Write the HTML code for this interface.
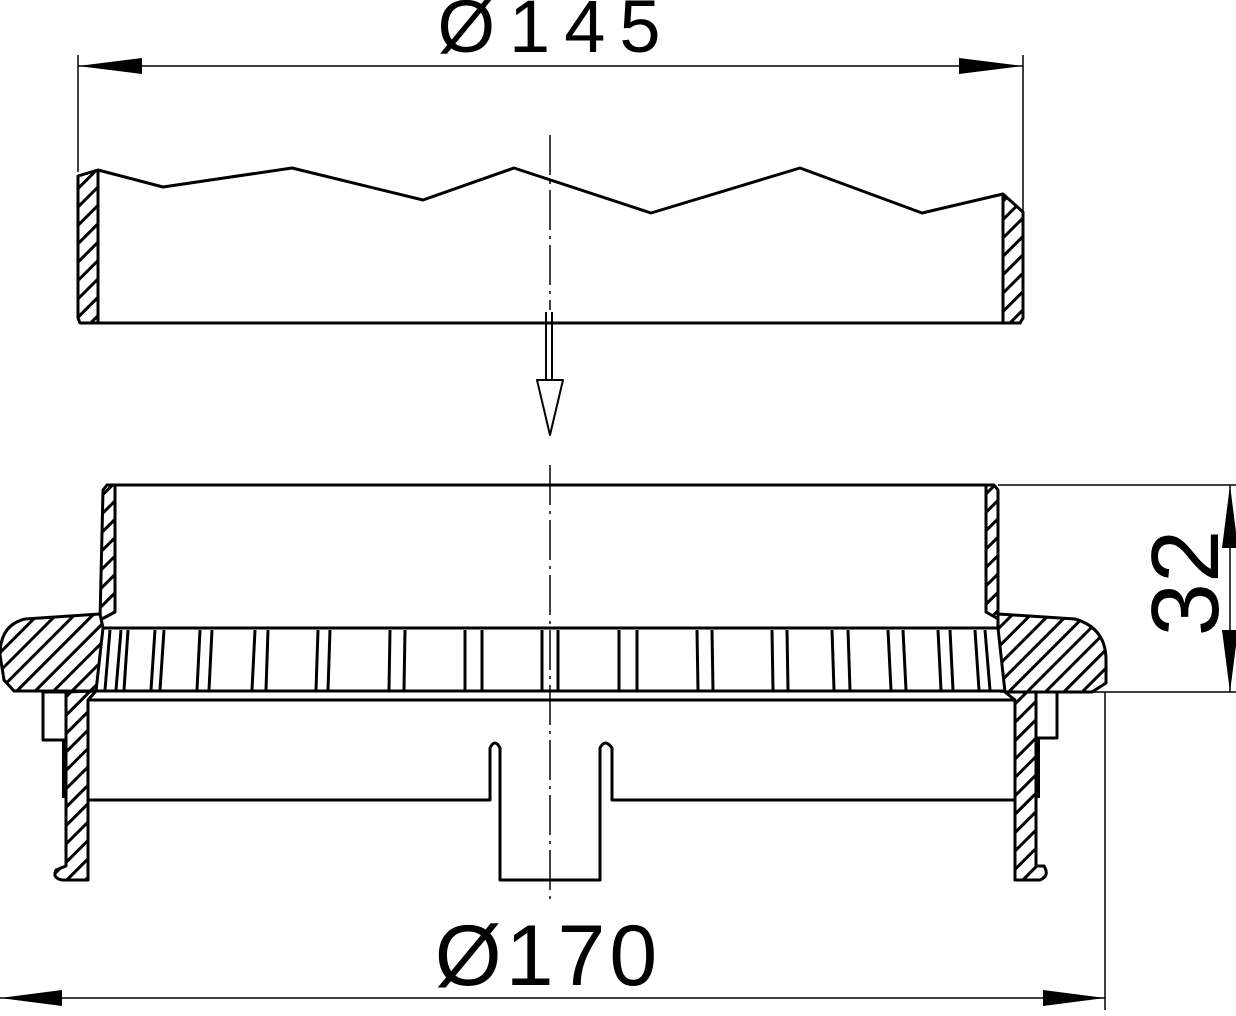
<!DOCTYPE html>
<html><head><style>html,body{margin:0;padding:0;background:#fff}svg{display:block}</style></head>
<body>
<svg width="1236" height="1016" viewBox="0 0 1236 1016" xmlns="http://www.w3.org/2000/svg">
<defs>
<pattern id="h" patternUnits="userSpaceOnUse" width="13" height="13" patternTransform="rotate(45)">
<rect width="13" height="13" fill="#fff"/><line x1="6.5" y1="0" x2="6.5" y2="13" stroke="#000" stroke-width="3"/>
</pattern>
</defs>
<g fill="none" stroke="#000" stroke-width="1.5">
<line x1="78" y1="66" x2="1023" y2="66"/>
<line x1="78" y1="55" x2="78" y2="172"/>
<line x1="1023" y1="55" x2="1023" y2="212"/>
<line x1="998" y1="485" x2="1236" y2="485"/>
<line x1="1000" y1="692" x2="1236" y2="692"/>
<line x1="1230" y1="485" x2="1230" y2="692"/>
<line x1="1105" y1="692" x2="1105" y2="1010"/>
<line x1="0" y1="998" x2="1105" y2="998"/>
<line x1="550" y1="135" x2="550" y2="310" stroke-dasharray="40,6,3,6"/>
<line x1="550" y1="465" x2="550" y2="900" stroke-dasharray="40,6,3,6"/>
</g>
<g fill="#000">
<polygon points="78,66 142,58 142,74"/>
<polygon points="1023,66 959,58 959,74"/>
<polygon points="0,998 62,990 62,1006"/>
<polygon points="1105,998 1043,990 1043,1006"/>
<polygon points="1230,485 1222,548 1238,548"/>
<polygon points="1230,692 1222,630 1238,630"/>
</g>
<g fill="none" stroke="#000" stroke-width="3" stroke-linejoin="round">
<polyline points="98,170 163,187 292,168 423,200 514,168 651,213 800,168 922,213 1003,194"/>
<line x1="80" y1="323" x2="1021" y2="323"/>
<polygon points="78,176 98,170 98,323 80,323 78,318" fill="url(#h)"/>
<polygon points="1003,194 1023,212 1023,318 1020,323 1003,323" fill="url(#h)"/>
<line x1="546" y1="312" x2="546" y2="380" stroke-width="2"/>
<line x1="552" y1="312" x2="552" y2="380" stroke-width="2"/>
<polygon points="537,380 563,380 550,435" stroke-width="2"/>
<line x1="115" y1="485" x2="986" y2="485"/>
<polygon points="107,485 115,485 115,612 100,620 103,490" fill="url(#h)"/>
<polygon points="986,485 994,485 998,490 998,614 1000,620 986,612" fill="url(#h)"/>
<line x1="103" y1="628" x2="998" y2="628"/>
<line x1="96" y1="691" x2="1005" y2="691"/>
<line x1="88" y1="700" x2="1015" y2="700"/>
<path d="M100,614 L25,619 Q0,625 0,655 L4,680 L14,691 L96,691 L103,628 Z" fill="url(#h)"/>
<path d="M998,614 L1075,619 Q1106,628 1106,660 L1106,683 L1092,692 L1005,692 L998,628 Z" fill="url(#h)"/>
<path d="M88,700 L88,880 L62,880 Q52,878 56,870 L66,866 L66,692 L96,691 Z" fill="url(#h)"/>
<path d="M1015,700 L1015,880 L1040,880 Q1050,876 1044,866 L1036,866 L1036,692 L1005,692 Z" fill="url(#h)"/>
<rect x="43" y="692" width="23" height="48"/>
<rect x="1036" y="692" width="21" height="46"/>
<line x1="64" y1="740" x2="64" y2="798" stroke-width="4"/>
<line x1="1038" y1="738" x2="1038" y2="798" stroke-width="4"/>
<path d="M88,800 L490,800 L490,748 Q495,738 500,748 L500,880 L600,880 L600,748 Q605,738 612,748 L612,800 L1015,800"/>
</g>
<g stroke="#000" stroke-width="3">
<line x1="110" y1="630" x2="105" y2="690"/><line x1="121" y1="630" x2="116" y2="690"/><line x1="128" y1="630" x2="124" y2="690"/>
<line x1="155" y1="630" x2="151" y2="690"/><line x1="164" y1="630" x2="160" y2="690"/>
<line x1="200" y1="630" x2="197" y2="690"/><line x1="212" y1="630" x2="209" y2="690"/>
<line x1="255" y1="630" x2="252" y2="690"/><line x1="268" y1="630" x2="266" y2="690"/>
<line x1="318" y1="630" x2="316" y2="690"/><line x1="330" y1="630" x2="328" y2="690"/>
<line x1="390" y1="630" x2="389" y2="690"/><line x1="405" y1="630" x2="404" y2="690"/>
<line x1="465" y1="630" x2="465" y2="690"/><line x1="482" y1="630" x2="482" y2="690"/>
<line x1="542" y1="630" x2="542" y2="690"/><line x1="558" y1="630" x2="558" y2="690"/>
<line x1="619" y1="630" x2="619" y2="690"/><line x1="637" y1="630" x2="637" y2="690"/>
<line x1="697" y1="630" x2="698" y2="690"/><line x1="712" y1="630" x2="713" y2="690"/>
<line x1="772" y1="630" x2="773" y2="690"/><line x1="787" y1="630" x2="788" y2="690"/>
<line x1="832" y1="630" x2="834" y2="690"/><line x1="848" y1="630" x2="850" y2="690"/>
<line x1="888" y1="630" x2="891" y2="690"/><line x1="903" y1="630" x2="906" y2="690"/>
<line x1="938" y1="630" x2="941" y2="690"/><line x1="950" y1="630" x2="953" y2="690"/>
<line x1="975" y1="630" x2="979" y2="690"/><line x1="985" y1="630" x2="990" y2="690"/>
</g>
<g font-family="Liberation Sans, sans-serif" fill="#000" font-weight="normal">
<text x="556" y="52" font-size="74" text-anchor="middle" letter-spacing="14">Ø145</text>
<text x="548" y="985" font-size="86" text-anchor="middle" letter-spacing="4">Ø170</text>
<text transform="translate(1218,583) rotate(-90)" font-size="96" text-anchor="middle">32</text>
</g>
</svg>
</body></html>
